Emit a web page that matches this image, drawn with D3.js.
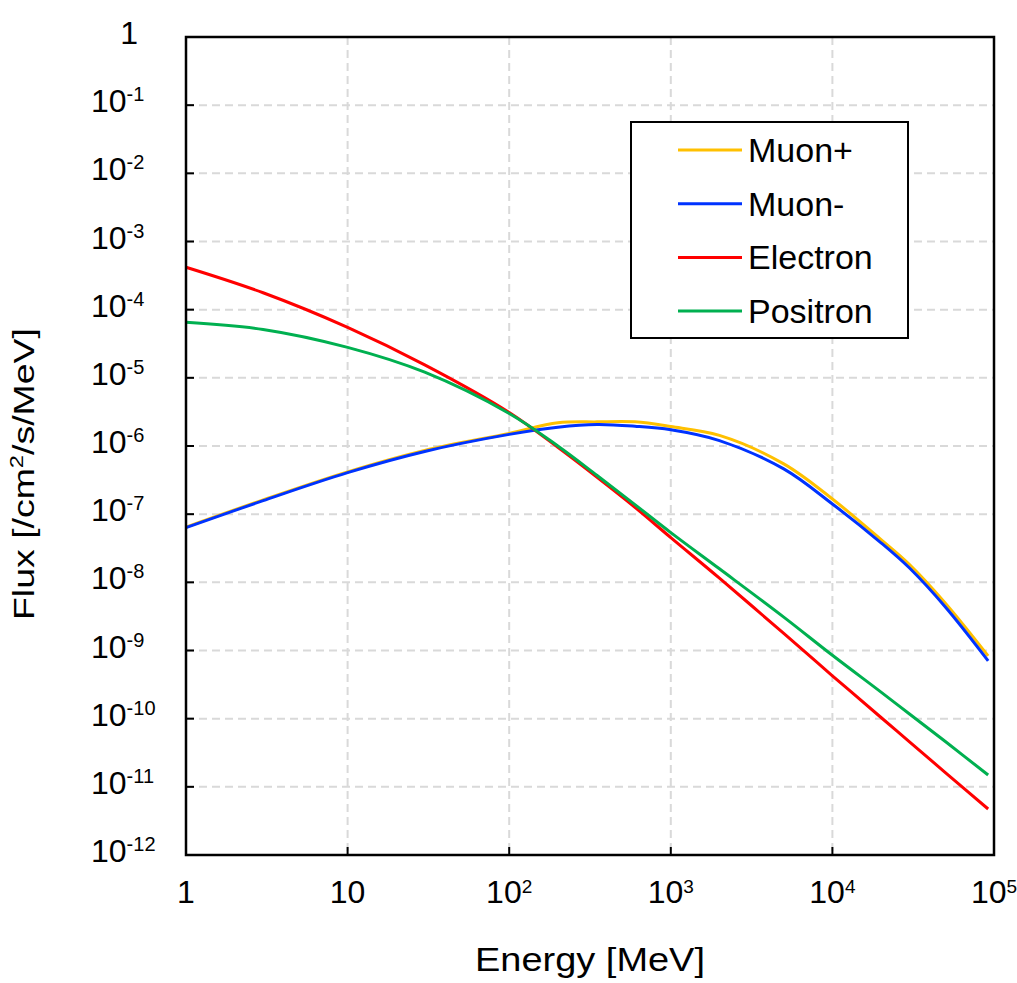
<!DOCTYPE html>
<html>
<head>
<meta charset="utf-8">
<script src="https://cdn.jsdelivr.net/npm/d3@7"></script>
<style>
  body { margin: 0; background: #fff; }
  svg text { font-family: "Liberation Sans", Arial, sans-serif; fill: #000; }
</style>
</head>
<body>
<svg id="chart" width="1017" height="983"></svg>
<script>
// energies in MeV
const energy = [1, 3, 10, 30, 100, 200, 350, 600, 1000, 2000, 5000, 1e4, 2e4, 3e4, 5e4, 9.2e4];

// flux values [/cm2/s/MeV]
const muonPlus  = [6.46e-8, 1.62e-7, 4.17e-7, 8.6e-7, 1.53e-6, 2.19e-6, 2.26e-6, 2.26e-6, 1.93e-6, 1.43e-6, 5.47e-7, 1.67e-7, 4.23e-8, 1.82e-8, 4.94e-9, 8.32e-10];
const muonMinus = [6.35e-8, 1.58e-7, 4.07e-7, 8.32e-7, 1.48e-6, 1.89e-6, 2.07e-6, 1.95e-6, 1.73e-6, 1.2e-6, 4.61e-7, 1.41e-7, 3.8e-8, 1.62e-8, 4.35e-9, 7.06e-10];
const electron  = [4.19e-4, 1.77e-4, 5.5e-5, 1.55e-5, 3.1e-6, 9.55e-7, 3.47e-7, 1.26e-7, 4.53e-8, 1.15e-8, 1.78e-9, 4.26e-10, 1.04e-10, 4.57e-11, 1.62e-11, 4.73e-12];
const positron  = [6.52e-5, 5.13e-5, 2.8e-5, 1.21e-5, 3.0e-6, 1.0e-6, 3.69e-7, 1.38e-7, 5.37e-8, 1.58e-8, 3.09e-9, 8.51e-10, 2.45e-10, 1.17e-10, 4.62e-11, 1.49e-11];

const seriesNames = ["Muon+", "Muon-", "Electron", "Positron"];
const seriesColors = ["#FFC000", "#0033FF", "#FF0000", "#00B050"];
const seriesValues = [muonPlus, muonMinus, electron, positron];

// tick labels: [base, exponent]
const xTickLabels = [["1", ""], ["10", ""], ["10", "2"], ["10", "3"], ["10", "4"], ["10", "5"]];
const yTickLabels = [["1", ""], ["10", "-1"], ["10", "-2"], ["10", "-3"], ["10", "-4"], ["10", "-5"], ["10", "-6"],
                     ["10", "-7"], ["10", "-8"], ["10", "-9"], ["10", "-10"], ["10", "-11"], ["10", "-12"]];

const svg = d3.select("#chart");
const plotL = 186, plotR = 994, plotT = 37, plotB = 855;

const x = d3.scaleLog().domain([1, 1e5]).range([plotL, plotR]);
const y = d3.scaleLog().domain([1e-12, 1]).range([plotB, plotT]);

const xTicks = d3.range(0, 6).map(i => Math.pow(10, i));
const yTicks = d3.range(0, 13).map(i => Math.pow(10, -i));

// grid
const grid = svg.append("g");
grid.selectAll(".hg")
    .data(yTicks.slice(1, -1))
    .enter().append("line")
    .attr("x1", plotL).attr("x2", plotR)
    .attr("y1", d => y(d)).attr("y2", d => y(d))
    .attr("stroke", "#d9d9d9").attr("stroke-width", 2)
    .attr("stroke-dasharray", "8,5");
grid.selectAll(".vg")
    .data(xTicks.slice(1, -1))
    .enter().append("line")
    .attr("x1", d => x(d)).attr("x2", d => x(d))
    .attr("y1", plotT).attr("y2", plotB)
    .attr("stroke", "#d9d9d9").attr("stroke-width", 2)
    .attr("stroke-dasharray", "8,5");

// curves
const line = d3.line()
    .x(d => x(d[0]))
    .y(d => y(d[1]))
    .curve(d3.curveCatmullRom.alpha(0.5));

seriesValues.forEach((vals, i) => {
    svg.append("path")
        .datum(energy.map((e, j) => [e, vals[j]]))
        .attr("fill", "none")
        .attr("stroke", seriesColors[i])
        .attr("stroke-width", 3)
        .attr("d", line);
});

// frame
svg.append("rect")
    .attr("x", plotL).attr("y", plotT)
    .attr("width", plotR - plotL).attr("height", plotB - plotT)
    .attr("fill", "none").attr("stroke", "#000").attr("stroke-width", 2.5);

// inside ticks
svg.append("g").selectAll("line")
    .data(yTicks)
    .enter().append("line")
    .attr("x1", plotL).attr("x2", plotL + 8)
    .attr("y1", d => y(d)).attr("y2", d => y(d))
    .attr("stroke", "#000").attr("stroke-width", 2);
svg.append("g").selectAll("line")
    .data(xTicks)
    .enter().append("line")
    .attr("x1", d => x(d)).attr("x2", d => x(d))
    .attr("y1", plotB).attr("y2", plotB - 8)
    .attr("stroke", "#000").attr("stroke-width", 2);

// y tick labels
const yl = svg.append("g").selectAll("text")
    .data(yTicks)
    .enter().append("text")
    .attr("x", (d, i) => yTickLabels[i][1] ? 91 : 138)
    .attr("y", d => y(d) + 7)
    .attr("text-anchor", (d, i) => yTickLabels[i][1] ? "start" : "end")
    .style("font-size", "32px");
yl.append("tspan").text((d, i) => yTickLabels[i][0]);
yl.append("tspan").attr("dy", -11).style("font-size", "20px").text((d, i) => yTickLabels[i][1]);

// x tick labels
const xl = svg.append("g").selectAll("text")
    .data(xTicks)
    .enter().append("text")
    .attr("x", d => x(d))
    .attr("y", 903)
    .attr("text-anchor", "middle")
    .style("font-size", "32px");
xl.append("tspan").text((d, i) => xTickLabels[i][0]);
xl.append("tspan").attr("dy", -10).style("font-size", "19px").text((d, i) => xTickLabels[i][1]);

// axis titles
svg.append("text")
    .attr("x", 590).attr("y", 971)
    .attr("text-anchor", "middle")
    .attr("textLength", 230).attr("lengthAdjust", "spacingAndGlyphs")
    .style("font-size", "34px")
    .text("Energy [MeV]");

const yt = svg.append("text")
    .attr("transform", "translate(34,474) rotate(-90)")
    .attr("text-anchor", "middle")
    .attr("textLength", 292).attr("lengthAdjust", "spacingAndGlyphs")
    .style("font-size", "30px");
yt.append("tspan").text("Flux [/cm");
yt.append("tspan").attr("dy", -11).style("font-size", "19px").text("2");
yt.append("tspan").attr("dy", 11).text("/s/MeV]");

// legend
const legend = svg.append("g");
legend.append("rect")
    .attr("x", 631).attr("y", 122).attr("width", 277).attr("height", 216)
    .attr("fill", "#fff").attr("stroke", "#000").attr("stroke-width", 2);
const rows = legend.selectAll(".row")
    .data(seriesNames)
    .enter().append("g")
    .attr("transform", (d, i) => `translate(0,${150 + i * 53.7})`);
rows.append("line")
    .attr("x1", 678).attr("x2", 742)
    .attr("stroke", (d, i) => seriesColors[i]).attr("stroke-width", 3);
rows.append("text")
    .attr("x", 748).attr("y", 12)
    .style("font-size", "34px")
    .text(d => d);
</script>
</body>
</html>
